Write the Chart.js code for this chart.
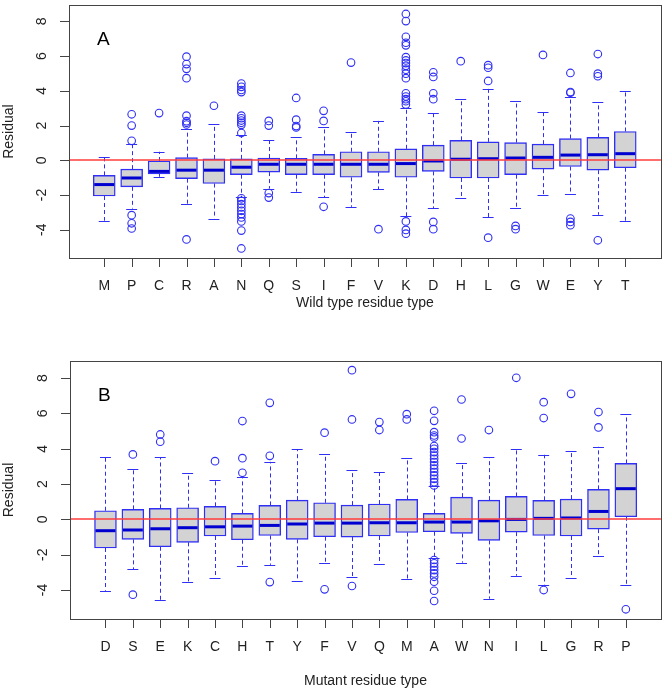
<!DOCTYPE html>
<html lang="en">
<head>
<meta charset="UTF-8" />
<title>Residual by residue type</title>
<script src="https://cdn.jsdelivr.net/npm/chart.js"></script>
<style>
  body { margin: 0; background: white; }
  .wrap { position: relative; width: 666px; height: 691px; }
  #chartA { position: absolute; left: 0; top: 0; }
  #chartB { position: absolute; left: 0; top: 340px; }
</style>
</head>
<body>
<div class="wrap">
  <canvas id="chartA" width="666" height="340"></canvas>
  <canvas id="chartB" width="666" height="351"></canvas>
</div>
<script>
// ---- panel A: wild type residue ----
const wildLabels = ["M","P","C","R","A","N","Q","S","I","F","V","K","D","H","L","G","W","E","Y","T"];
const wildLow  = [-3.48,-2.78,-0.95,-2.51,-3.36,-2.12,-1.63,-1.81,-2.12,-2.68,-1.68,-3.21,-2.76,-2.16,-3.29,-2.76,-2.0,-1.97,-3.14,-3.48];
const wildQ1   = [-2.06,-1.53,-0.78,-1.06,-1.34,-0.83,-0.68,-0.83,-0.83,-0.98,-0.70,-0.98,-0.64,-1.02,-1.02,-0.83,-0.51,-0.36,-0.57,-0.43];
const wildMed  = [-1.40,-1.02,-0.64,-0.57,-0.57,-0.40,-0.23,-0.23,-0.23,-0.23,-0.23,-0.19,-0.04,0.06,0.09,0.13,0.17,0.30,0.32,0.38];
const wildQ3   = [-0.87,-0.51,-0.04,0.15,0.08,0.08,0.13,0.11,0.34,0.49,0.49,0.66,0.87,1.15,1.06,1.02,0.93,1.25,1.32,1.66];
const wildHigh = [0.17,0.96,0.49,1.81,2.08,1.44,1.17,1.32,1.89,1.63,2.27,2.99,2.72,3.55,4.12,3.40,2.80,3.67,3.33,3.97];
const wildOut = [
  [],
  [2.65,2.0,1.12,-3.16,-3.63,-3.93],
  [2.72],
  [5.97,5.54,5.27,4.73,2.57,2.25,2.16,2.06,-4.56],
  [3.14],
  [4.42,4.23,4.05,3.93,2.57,2.42,2.29,2.16,2.04,1.57,-2.19,-2.34,-2.53,-2.72,-2.91,-3.1,-3.29,-3.52,-4.05,-5.08],
  [2.27,2.0,-1.89,-2.15],
  [3.59,2.34,1.97,1.89],
  [2.85,2.27,-2.68],
  [5.63],
  [-3.97],
  [8.43,8.02,7.11,6.77,6.62,5.94,5.75,5.60,5.44,5.22,4.99,4.73,3.86,3.67,3.52,3.40,3.21,-3.52,-4.01,-4.23],
  [5.07,4.80,3.86,3.52,-3.55,-3.97],
  [5.71],
  [5.48,5.33,4.57,-4.46],
  [-3.78,-3.97],
  [6.07],
  [5.03,3.93,3.89,-3.36,-3.55,-3.74],
  [6.12,4.99,4.84,-4.61],
  []
];

// ---- panel B: mutant residue ----
const mutLabels = ["D","S","E","K","C","H","T","Y","F","V","Q","M","A","W","N","I","L","G","R","P"];
const mutLow  = [-4.04,-2.81,-4.57,-3.57,-3.30,-2.62,-2.57,-3.49,-2.49,-3.25,-2.53,-3.40,-2.21,-2.45,-4.49,-3.19,-3.70,-3.32,-2.08,-3.72];
const mutQ1   = [-1.62,-1.13,-1.55,-1.30,-0.94,-1.15,-0.91,-1.13,-0.98,-1.00,-0.94,-0.74,-0.70,-0.79,-1.19,-0.72,-0.91,-0.94,-0.55,0.15];
const mutMed  = [-0.64,-0.60,-0.53,-0.47,-0.42,-0.38,-0.34,-0.26,-0.21,-0.21,-0.19,-0.19,-0.15,-0.15,-0.08,0.0,0.06,0.08,0.45,1.74];
const mutQ3   = [0.49,0.57,0.62,0.66,0.74,0.34,0.79,1.09,0.94,0.81,0.87,1.13,0.34,1.26,1.09,1.30,1.08,1.15,1.70,3.17];
const mutHigh = [3.56,2.88,3.53,2.64,2.25,2.42,3.26,3.98,3.68,2.79,2.68,3.45,1.89,3.21,3.51,4.00,3.66,3.85,4.11,5.96];
const mutOut = [
  [],
  [3.68,-4.26],
  [4.81,4.40],
  [],
  [3.30],
  [5.57,3.47,2.64],
  [6.60,3.60,-3.55],
  [],
  [4.91,-3.96],
  [8.45,5.66,-3.77],
  [5.51,5.06],
  [5.96,5.66],
  [6.15,5.58,4.94,4.75,4.64,4.15,4.0,3.81,3.62,3.43,3.25,3.06,2.87,2.68,2.49,2.30,2.11,1.92,
   -2.30,-2.49,-2.68,-2.87,-3.06,-3.25,-3.53,-4.04,-4.62],
  [6.79,4.58],
  [5.06],
  [8.02],
  [6.64,5.74,-4.0],
  [7.11],
  [6.08,5.21],
  [-5.09]
];

const yTicks = [-4, -2, 0, 2, 4, 6, 8];
const FONT = "'Liberation Sans', Arial, sans-serif";
const BLUE = "#2f2ff5";
const BOX_WIDTH = 0.8; // in category units, as in R boxplot

const boxPlotPlugin = {
  id: "boxplot",
  afterDatasetsDraw(chart, args, o) {
    const { ctx, scales: { x, y } } = chart;
    const halfCap = BOX_WIDTH / 4;
    const halfBox = BOX_WIDTH / 2;
    ctx.save();
    o.low.forEach((lo, i) => {
      const c = i + 1;
      const px = Math.round(x.getPixelForValue(c)) + 0.5;
      // whiskers
      ctx.strokeStyle = BLUE;
      ctx.lineWidth = 1;
      ctx.setLineDash([4, 3]);
      ctx.beginPath();
      ctx.moveTo(px, y.getPixelForValue(o.q3[i]));
      ctx.lineTo(px, y.getPixelForValue(o.high[i]));
      ctx.moveTo(px, y.getPixelForValue(o.q1[i]));
      ctx.lineTo(px, y.getPixelForValue(lo));
      ctx.stroke();
      ctx.setLineDash([]);
      // staples
      ctx.beginPath();
      [lo, o.high[i]].forEach((v) => {
        const py = Math.round(y.getPixelForValue(v)) + 0.5;
        ctx.moveTo(x.getPixelForValue(c - halfCap), py);
        ctx.lineTo(x.getPixelForValue(c + halfCap), py);
      });
      ctx.stroke();
      // median
      ctx.strokeStyle = "#0000d0";
      ctx.lineWidth = 3;
      ctx.beginPath();
      const pm = y.getPixelForValue(o.med[i]);
      ctx.moveTo(x.getPixelForValue(c - halfBox) + 1, pm);
      ctx.lineTo(x.getPixelForValue(c + halfBox) - 1, pm);
      ctx.stroke();
    });
    ctx.restore();
  },
  afterDraw(chart, args, o) {
    const { ctx, chartArea: a, scales: { x, y } } = chart;
    ctx.save();
    // reference line at zero
    const p0 = Math.round(y.getPixelForValue(0));
    ctx.strokeStyle = "#ff3c3c";
    ctx.lineWidth = 1.5;
    ctx.beginPath();
    ctx.moveTo(a.left, p0);
    ctx.lineTo(a.right, p0);
    ctx.stroke();
    // frame
    ctx.strokeStyle = "#444";
    ctx.lineWidth = 1;
    ctx.strokeRect(Math.round(a.left) + 0.5, Math.round(a.top) + 0.5,
      Math.round(a.right - a.left), Math.round(a.bottom - a.top));
    // y ticks
    ctx.fillStyle = "#222";
    ctx.font = "14px " + FONT;
    ctx.beginPath();
    yTicks.forEach((t) => {
      const py = Math.round(y.getPixelForValue(t)) + 0.5;
      ctx.moveTo(a.left - 9, py);
      ctx.lineTo(a.left, py);
    });
    // x ticks
    o.labels.forEach((l, i) => {
      const px = Math.round(x.getPixelForValue(i + 1)) + 0.5;
      ctx.moveTo(px, a.bottom);
      ctx.lineTo(px, a.bottom + 9);
    });
    ctx.stroke();
    ctx.textAlign = "center";
    ctx.textBaseline = "middle";
    o.labels.forEach((l, i) => {
      ctx.fillText(l, x.getPixelForValue(i + 1), a.bottom + 28);
    });
    yTicks.forEach((t) => {
      ctx.save();
      ctx.translate(a.left - 27, y.getPixelForValue(t));
      ctx.rotate(-Math.PI / 2);
      ctx.fillText(String(t), 0, 0);
      ctx.restore();
    });
    // axis titles
    ctx.fillText(o.xTitle, (a.left + a.right) / 2, a.bottom + o.titleGap);
    ctx.save();
    ctx.translate(9, (a.top + a.bottom) / 2);
    ctx.rotate(-Math.PI / 2);
    ctx.fillText("Residual", 0, 0);
    ctx.restore();
    // panel letter
    ctx.font = "19px " + FONT;
    ctx.fillStyle = "#000";
    ctx.textAlign = "left";
    ctx.fillText(o.panel, a.left + 28, a.top + 35);
    ctx.restore();
  },
};

function makePanel(id, labels, low, q1, med, q3, high, out, opts) {
  const boxes = labels.map((l, i) => ({ x: i + 1, y: [q1[i], q3[i]] }));
  const points = [];
  out.forEach((vals, i) => vals.forEach((v) => points.push({ x: i + 1, y: v })));
  new Chart(id, {
    type: "bar",
    data: {
      datasets: [
        {
          type: "scatter",
          data: points,
          pointStyle: "circle",
          pointRadius: 3.8,
          borderColor: BLUE,
          backgroundColor: "rgba(0,0,0,0)",
          borderWidth: 1.1,
        },
        {
          type: "bar",
          data: boxes,
          backgroundColor: "#d3d3d3",
          borderColor: BLUE,
          borderWidth: 1.4,
          borderSkipped: false,
          // box width in data units, converted through the x scale
          barThickness: (c) => {
            const x = c.chart.scales.x;
            return x ? x.getPixelForValue(BOX_WIDTH) - x.getPixelForValue(0) : 20;
          },
        },
      ],
    },
    options: {
      responsive: false,
      animation: false,
      events: [],
      layout: { padding: opts.padding },
      plugins: {
        legend: { display: false },
        tooltip: { enabled: false },
        boxplot: {
          labels, low, q1, med, q3, high,
          xTitle: opts.xTitle, titleGap: opts.titleGap, panel: opts.panel,
        },
      },
      scales: {
        x: {
          type: "linear", min: opts.xmin, max: opts.xmax, display: false,
          bounds: "data", offset: false,
          ticks: { stepSize: 1, includeBounds: false },
        },
        y: { type: "linear", min: opts.ymin, max: opts.ymax, display: false },
      },
    },
    plugins: [boxPlotPlugin],
  });
}

makePanel("chartA", wildLabels, wildLow, wildQ1, wildMed, wildQ3, wildHigh, wildOut, {
  padding: { left: 69, right: 5, top: 1, bottom: 82 },
  xmin: -0.285, xmax: 21.3, ymin: -5.63, ymax: 8.94,
  xTitle: "Wild type residue type", titleGap: 45, panel: "A",
});
makePanel("chartB", mutLabels, mutLow, mutQ1, mutMed, mutQ3, mutHigh, mutOut, {
  padding: { left: 70, right: 1, top: 21, bottom: 72 },
  xmin: -0.295, xmax: 21.28, ymin: -5.64, ymax: 8.97,
  xTitle: "Mutant residue type", titleGap: 62, panel: "B",
});
</script>
</body>
</html>
